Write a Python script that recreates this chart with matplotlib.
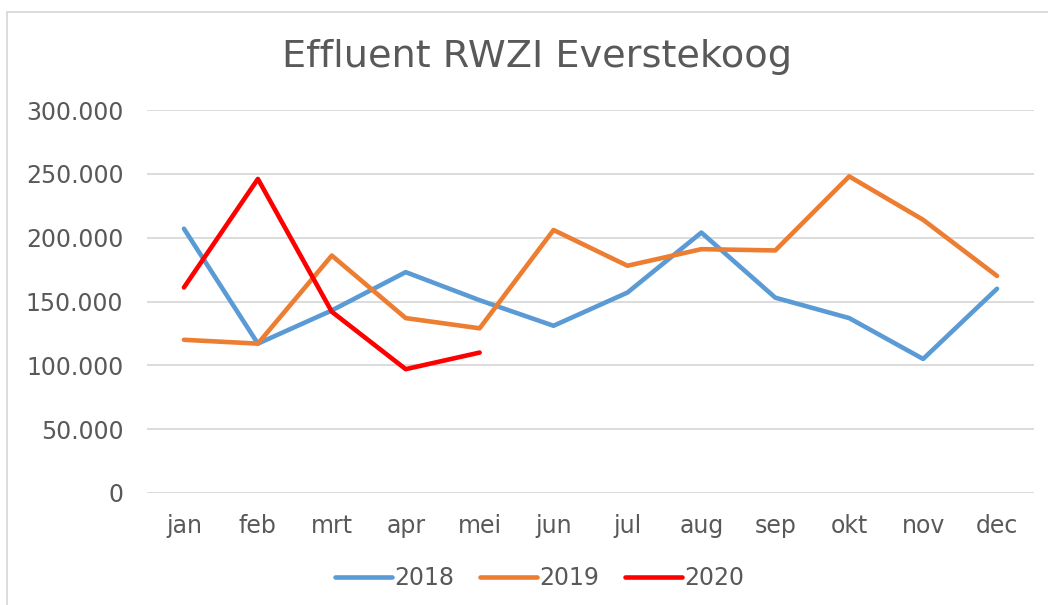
import numpy as np
import matplotlib.pyplot as plt
from matplotlib.ticker import FuncFormatter
from matplotlib.lines import Line2D

months = ["jan", "feb", "mrt", "apr", "mei", "jun", "jul", "aug", "sep", "okt", "nov", "dec"]
y2018 = [207000, 117000, 143000, 173000, 151000, 131000, 157000, 204000, 153000, 137000, 105000, 160000]
y2019 = [120000, 117000, 186000, 137000, 129000, 206000, 178000, 191000, 190000, 248000, 214000, 170000]
y2020 = [161000, 246000, 142000, 97000, 110000]

grey = "#595959"

fig = plt.figure(figsize=(10.48, 6.05), dpi=100)
ax = fig.add_axes([147 / 1048, 1 - 493 / 605, (1034 - 147) / 1048, (493 - 110) / 605])

x = np.arange(len(months))
ax.plot(x, y2018, color="#5B9BD5", lw=3.3, solid_capstyle="round", solid_joinstyle="round", label="2018")
ax.plot(x, y2019, color="#ED7D31", lw=3.3, solid_capstyle="round", solid_joinstyle="round", label="2019")
ax.plot(x[:len(y2020)], y2020, color="#FF0000", lw=3.3, solid_capstyle="round", solid_joinstyle="round", label="2020")

ax.set_xlim(-0.5, len(months) - 0.5)
ax.set_ylim(0, 300000)
ax.set_yticks(np.arange(0, 300001, 50000))
ax.yaxis.set_major_formatter(FuncFormatter(lambda v, p: f"{int(v):,}".replace(",", ".")))
ax.set_xticks(x)
ax.set_xticklabels(months)
ax.grid(axis="y", color="#D9D9D9", lw=1.3)
ax.set_axisbelow(True)
for s in ax.spines.values():
    s.set_visible(False)
ax.tick_params(axis="both", length=0, labelsize=17, labelcolor=grey)
ax.tick_params(axis="y", pad=17)
ax.tick_params(axis="x", pad=15)

fig.text(0.512, 1 - 57 / 605, "Effluent RWZI Everstekoog", ha="center", va="center", fontsize=27.5, color=grey)

fig.legend(loc="center", bbox_to_anchor=(0.515, 1 - 578 / 605), ncol=3, frameon=False,
           fontsize=17, labelcolor=grey, handlelength=2.4, handletextpad=0.1, columnspacing=1.1)

# chart border
fig.add_artist(Line2D([7 / 1048, 7 / 1048], [0, 1 - 12 / 605], color="#D9D9D9", lw=1.3))
fig.add_artist(Line2D([7 / 1048, 1], [1 - 12 / 605, 1 - 12 / 605], color="#D9D9D9", lw=1.3))

fig.savefig("out.png", dpi=100, facecolor="white")
